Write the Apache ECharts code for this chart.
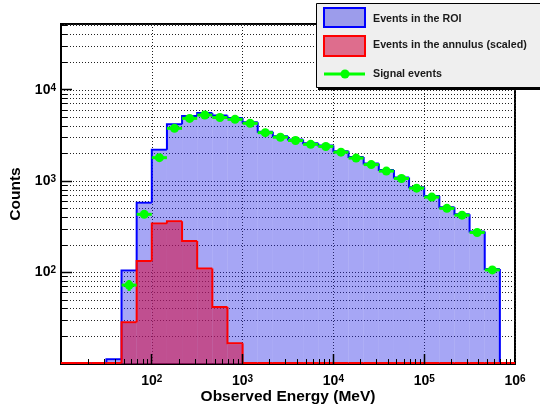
<!DOCTYPE html>
<html><head><meta charset="utf-8">
<script src="https://cdn.jsdelivr.net/npm/echarts@6/dist/echarts.min.js"></script>
<style>html,body{margin:0;padding:0;background:#fff}#c{width:540px;height:408px}</style>
</head><body><div id="c"></div>
<script>
// ---- data ----
const seriesNames = ['Events in the ROI', 'Events in the annulus (scaled)', 'Signal events'];
// logarithmic bin edges (6 bins per decade), 30 bins
const binEdges = [10, 14.68, 21.54, 31.62, 46.42, 68.13, 100, 146.8, 215.4, 316.2, 464.2, 681.3,
  1000, 1468, 2154, 3162, 4642, 6813, 10000, 14678, 21544, 31623, 46416, 68129,
  100000, 146780, 215440, 316230, 464160, 681290, 1000000];
const roiCounts = [0, 0, 0, 11, 103, 567, 2150, 4100, 5050, 5430, 5100, 4800,
  4300, 3400, 3030, 2790, 2530, 2400, 2080, 1790, 1520, 1290, 1070, 840,
  670, 505, 425, 275, 107, 0];
const annulusCounts = [0, 0, 0, 0, 28, 131, 337, 355, 216, 108, 41, 16.4,
  0, 0, 0, 0, 0, 0, 0, 0, 0, 0, 0, 0, 0, 0, 0, 0, 0, 0];
const signalCounts = [null, null, null, null, 73, 434, 1810, 3790, 4870, 5300, 4980, 4750,
  4300, 3400, 3030, 2790, 2530, 2400, 2080, 1790, 1520, 1290, 1070, 840,
  670, 505, 425, 275, 107, null];
const signalErrors = [null, null, null, null, 10, 24, 44, 62, 70, 73, 71, 69,
  66, 58, 55, 53, 50, 49, 46, 42, 39, 36, 33, 29, 26, 22, 21, 17, 10, null];
const xLabelExps = [2, 3, 4, 5, 6];
const yLabelExps = [2, 3, 4];
const minorMultipliers = [2, 3, 4, 5, 6, 7, 8, 9];

const X_MIN = 10, X_MAX = 1e6, Y_MIN = 10, Y_MAX = 52500;
const FONT = 'Liberation Sans';
const BLUE_FILL = 'rgba(40,40,230,0.41)';
const RED_FILL = 'rgba(210,15,70,0.58)';

function minorValues(fromExp, toExp, max) {
  const out = [];
  for (let e = fromExp; e < toExp; e++) for (const m of minorMultipliers) { const v = m * Math.pow(10, e); if (v < max) out.push(v); }
  return out;
}
const xMinor = minorValues(1, 6, X_MAX);
const yMinor = minorValues(1, 5, Y_MAX);
const xMajor = [100, 1000, 10000, 100000];
const yMajor = [100, 1000, 10000];

function histRows(vals) { return vals.map((v, i) => [binEdges[i], binEdges[i + 1], v, i > 0 ? vals[i - 1] : 0]); }
function sigRows() {
  const rows = [];
  signalCounts.forEach((v, i) => { if (v != null) rows.push([binEdges[i], binEdges[i + 1], v, signalErrors[i]]); });
  return rows;
}
const cr = v => Math.round(v - 0.5) + 0.5;

function histRender(fill, stroke) {
  return function (params, api) {
    const lo = api.value(0), hi = api.value(1);
    const v = Math.max(api.value(2), Y_MIN), pv = Math.max(api.value(3), Y_MIN);
    const p0 = api.coord([lo, v]), p1 = api.coord([hi, v]);
    const pp = api.coord([lo, pv]);
    const base = api.coord([lo, Y_MIN])[1];
    const ch = [];
    if (v > Y_MIN) ch.push({ type: 'rect', shape: { x: p0[0], y: p0[1], width: p1[0] - p0[0], height: base - p0[1] }, style: { fill: fill } });
    ch.push({ type: 'polyline', shape: { points: [[pp[0], pp[1] - 1], [p0[0], p0[1] - 1], [p1[0], p1[1] - 1]] }, style: { stroke: stroke, lineWidth: 2, fill: null } });
    return { type: 'group', children: ch };
  };
}

function sigRender(params, api) {
  const lo = api.value(0), hi = api.value(1), v = api.value(2), e = api.value(3);
  const pL = api.coord([lo, v]), pR = api.coord([hi, v]);
  const cx = (pL[0] + pR[0]) / 2;
  const pt = api.coord([lo, v + e]), pb = api.coord([lo, Math.max(v - e, Y_MIN)]);
  return { type: 'group', children: [
    { type: 'line', shape: { x1: pL[0], y1: pL[1], x2: pR[0], y2: pR[1] }, style: { stroke: '#00ff00', lineWidth: 3 } },
    { type: 'line', shape: { x1: cx, y1: pt[1], x2: cx, y2: pb[1] }, style: { stroke: '#00ff00', lineWidth: 3 } },
    { type: 'circle', shape: { cx: cx, cy: pL[1], r: 4.5 }, style: { fill: '#00ff00' } }
  ] };
}

function gridRender(params, api) {
  const ch = [];
  const xl = api.coord([X_MIN, Y_MIN])[0], xr = api.coord([X_MAX, Y_MIN])[0];
  yMinor.forEach(v => {
    const y = cr(api.coord([X_MIN, v])[1]);
    ch.push({ type: 'line', shape: { x1: xl, y1: y, x2: xr, y2: y }, style: { stroke: '#222', lineWidth: 1, lineDash: [1, 2] } });
  });
  return { type: 'group', children: ch };
}

function tickRender(params, api) {
  const ch = [];
  const yb = api.coord([X_MIN, Y_MIN])[1], xl = api.coord([X_MIN, Y_MIN])[0];
  const st = { stroke: '#000', lineWidth: 1 };
  xMinor.forEach(v => { const x = cr(api.coord([v, Y_MIN])[0]); ch.push({ type: 'line', shape: { x1: x, y1: yb, x2: x, y2: yb - 5 }, style: st }); });
  xMajor.forEach(v => { const x = cr(api.coord([v, Y_MIN])[0]); ch.push({ type: 'line', shape: { x1: x, y1: yb, x2: x, y2: yb - 10 }, style: { stroke: '#000', lineWidth: 1.5 } }); });
  yMinor.forEach(v => { const y = cr(api.coord([X_MIN, v])[1]); ch.push({ type: 'line', shape: { x1: xl, y1: y, x2: xl + 6, y2: y }, style: st }); });
  yMajor.forEach(v => { const y = cr(api.coord([X_MIN, v])[1]); ch.push({ type: 'line', shape: { x1: xl, y1: y, x2: xl + 11, y2: y }, style: { stroke: '#000', lineWidth: 1.5 } }); });
  return { type: 'group', children: ch };
}

function expFormatter(allowed) {
  return function (v) {
    const l = Math.log10(v), e = Math.round(l);
    if (Math.abs(l - e) > 1e-6 || allowed.indexOf(e) < 0) return '';
    return '{b|10}{s|' + e + '}';
  };
}
const richLabel = {
  b: { fontFamily: FONT, fontWeight: 'bold', fontSize: 14, color: '#000', lineHeight: 14, padding: [6, 0, 0, 0], verticalAlign: 'bottom' },
  s: { fontFamily: FONT, fontWeight: 'bold', fontSize: 10, color: '#000', lineHeight: 10, verticalAlign: 'top' }
};

const chart = echarts.init(document.getElementById('c'), null, { renderer: 'canvas' });
chart.setOption({
  animation: false,
  backgroundColor: '#fff',
  grid: { left: 61, right: 25, top: 24, bottom: 44, show: true, borderColor: '#000', borderWidth: 2, backgroundColor: 'transparent', containLabel: false, outerBoundsMode: 'none' },
  xAxis: {
    type: 'log', logBase: 10, min: X_MIN, max: X_MAX,
    name: 'Observed Energy (MeV)', nameLocation: 'middle', nameGap: 25, nameMoveOverlap: false,
    nameTextStyle: { fontFamily: FONT, fontWeight: 'bold', fontSize: 15.5, color: '#000' },
    axisLine: { show: true, lineStyle: { color: '#000', width: 2 } },
    axisTick: { show: false },
    axisLabel: { formatter: expFormatter(xLabelExps), rich: richLabel, margin: 10, showMinLabel: true, showMaxLabel: true },
    splitLine: { show: true, lineStyle: { color: '#222', width: 1, type: [1, 2] } }
  },
  yAxis: {
    type: 'log', logBase: 10, min: Y_MIN, max: Y_MAX,
    name: 'Counts', nameLocation: 'middle', nameGap: 34, nameRotate: 90,
    nameTextStyle: { fontFamily: FONT, fontWeight: 'bold', fontSize: 15.5, color: '#000' },
    axisLine: { show: true, lineStyle: { color: '#000', width: 2 } },
    axisTick: { show: false },
    axisLabel: { formatter: expFormatter(yLabelExps), rich: richLabel, margin: 5 },
    splitLine: { show: true, lineStyle: { color: '#222', width: 1, type: [1, 2] } }
  },
  series: [
    { type: 'custom', name: 'minor-grid', z: 1, silent: true, renderItem: gridRender, data: [[X_MIN, Y_MIN]], encode: { x: 0, y: 1 } },
    { type: 'custom', name: seriesNames[0], z: 2, renderItem: histRender(BLUE_FILL, '#0000ff'), data: histRows(roiCounts), encode: { x: [0, 1], y: 2 } },
    { type: 'custom', name: seriesNames[1], z: 3, renderItem: histRender(RED_FILL, '#ff0000'), data: histRows(annulusCounts), encode: { x: [0, 1], y: 2 } },
    { type: 'custom', name: 'ticks', z: 4, silent: true, renderItem: tickRender, data: [[X_MIN, Y_MIN]], encode: { x: 0, y: 1 } },
    { type: 'custom', name: seriesNames[2], z: 5, renderItem: sigRender, data: sigRows(), encode: { x: [0, 1], y: 2 } }
  ],
  graphic: [
    { type: 'rect', z: 100, shape: { x: 318, y: 6, width: 240, height: 84 }, style: { fill: '#000' } },
    { type: 'rect', z: 101, shape: { x: 316.5, y: 3.5, width: 240, height: 84 }, style: { fill: '#efefef', stroke: '#000', lineWidth: 1 } },
    { type: 'rect', z: 102, shape: { x: 324, y: 8, width: 41, height: 19 }, style: { fill: BLUE_FILL, stroke: '#0000ff', lineWidth: 2 } },
    { type: 'rect', z: 102, shape: { x: 324, y: 36, width: 41, height: 20 }, style: { fill: RED_FILL, stroke: '#ff0000', lineWidth: 2 } },
    { type: 'line', z: 102, shape: { x1: 324, y1: 74, x2: 365, y2: 74 }, style: { stroke: '#00ff00', lineWidth: 3 } },
    { type: 'circle', z: 103, shape: { cx: 345, cy: 74, r: 4.5 }, style: { fill: '#00ff00' } },
    { type: 'text', z: 103, x: 373, y: 19, style: { text: seriesNames[0], fontFamily: FONT, fontWeight: 'bold', fontSize: 10.7, fill: '#1a1a1a', verticalAlign: 'middle' } },
    { type: 'text', z: 103, x: 373, y: 45.5, style: { text: seriesNames[1], fontFamily: FONT, fontWeight: 'bold', fontSize: 10.7, fill: '#1a1a1a', verticalAlign: 'middle' } },
    { type: 'text', z: 103, x: 373, y: 74.5, style: { text: seriesNames[2], fontFamily: FONT, fontWeight: 'bold', fontSize: 10.7, fill: '#1a1a1a', verticalAlign: 'middle' } }
  ]
});
</script></body></html>
